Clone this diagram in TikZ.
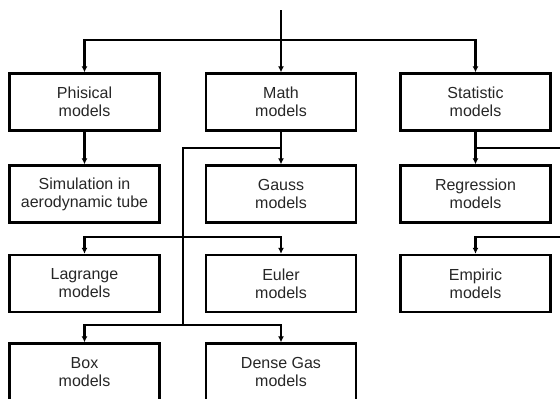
\documentclass[tikz,border=0pt]{standalone}
\usepackage{fontspec}
\setmainfont{Liberation Sans}
\usetikzlibrary{arrows.meta}
\begin{document}
\begin{tikzpicture}[x=1pt,y=-1pt,
  mbox/.style={draw=black, line width=2.4pt, minimum width=150pt, minimum height=57pt,
    inner sep=0pt, align=center, text=black!85, font=\fontsize{16}{18}\selectfont},
  conn/.style={line width=2.4pt, draw=black},
  arr/.style={conn, -{Latex[length=6pt,width=6pt]}}]
\useasboundingbox (0,0) rectangle (560,399);
% boxes
\node[mbox] (phys)  at (84.5,102) {Phisical\\models};
\node[mbox] (math)  at (281,102)  {Math\\models};
\node[mbox] (stat)  at (475.5,102) {Statistic\\models};
\node[mbox] (sim)   at (84.5,194) {Simulation in\\aerodynamic tube};
\node[mbox] (gauss) at (281,194)  {Gauss\\models};
\node[mbox] (regr)  at (475.5,194) {Regression\\models};
\node[mbox] (lag)   at (84.5,283.5) {Lagrange\\models};
\node[mbox] (euler) at (281,283.5)  {Euler\\models};
\node[mbox] (emp)   at (475.5,283.5) {Empiric\\models};
\node[mbox] (boxm)  at (84.5,372) {Box\\models};
\node[mbox] (dense) at (281,372)  {Dense Gas\\models};
% coordinates
\coordinate (top) at (281,10);
\coordinate (j0) at (281,40);
\coordinate (m1) at (281,148);
\coordinate (bl1) at (183,148);
\coordinate (bl2) at (183,237);
\coordinate (bl3) at (183,325);
\coordinate (s1) at (475.5,148);
\coordinate (r1) at (560,148);
\coordinate (r2) at (560,237);
% connectors
\draw[arr] (top) -- (math.north);
\draw[arr] (j0) -| (phys.north);
\draw[arr] (j0) -| (stat.north);
\draw[arr] (phys.south) -- (sim.north);
\draw[arr] (math.south) -- (gauss.north);
\draw[arr] (stat.south) -- (regr.north);
\draw[conn] (m1) -- (bl1) -- (bl3);
\draw[arr] (bl2) -| (lag.north);
\draw[arr] (bl2) -| (euler.north);
\draw[arr] (bl3) -| (boxm.north);
\draw[arr] (bl3) -| (dense.north);
\draw[conn] (s1) -- (r1);
\draw[arr] (r2) -| (emp.north);
\end{tikzpicture}
\end{document}
